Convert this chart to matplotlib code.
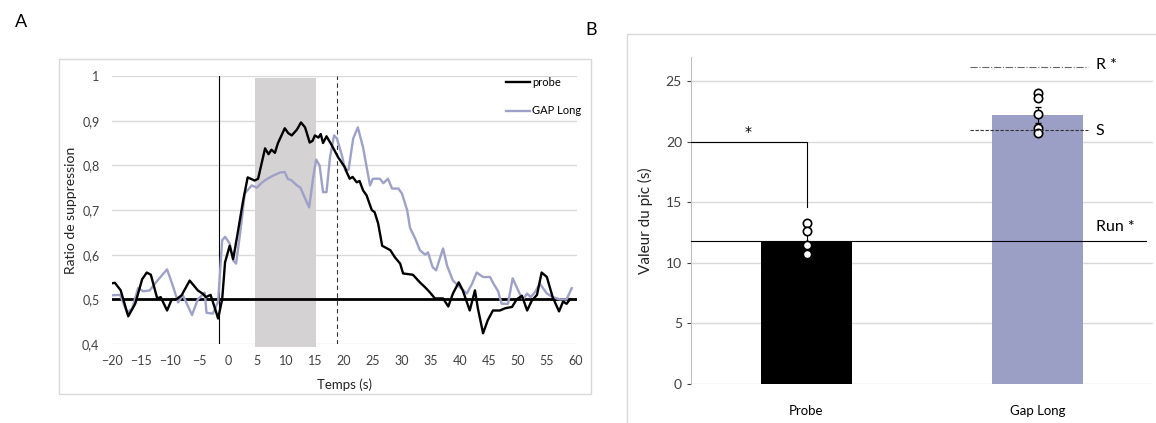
import matplotlib
matplotlib.use("Agg")
import matplotlib.pyplot as plt
from matplotlib.patches import Rectangle

plt.rcParams['font.family'] = ['Lato', 'DejaVu Sans']

# panel A: suppression ratio over time
probe_t = [-20, -19.5, -18.5, -17.2, -16, -14.8, -14, -13.3, -12.2, -11.6, -10.5, -9.7, -8.9, -8.0,
           -6.6, -5.2, -4.3, -3.8, -3.0, -2.2, -1.7, -1.0, -0.5, 0.3, 0.9, 1.7, 2.6, 3.4, 4.6, 5.2,
           6.4, 7.0, 7.5, 8.1, 8.6, 9.8, 10.4, 11.0, 11.9, 12.6, 13.3, 14.1, 14.6, 15.0, 15.6, 16.0,
           16.4, 17.0, 17.9, 19.0, 20.2, 20.5, 21.0, 21.5, 22.2, 22.7, 23.3, 23.9, 24.8, 25.3, 25.9,
           26.6, 28.0, 28.8, 29.7, 30.2, 31.9, 33.1, 34.0, 34.8, 35.7, 37.1, 38.0, 38.8, 39.8, 40.5,
           41.7, 42.6, 43.1, 44.0, 44.8, 45.7, 46.9, 47.8, 49.0, 49.8, 50.7, 51.6, 52.4, 53.3, 54.1,
           55.0, 56.0, 57.1, 57.8, 58.4, 59.0]
probe_v = [0.536, 0.537, 0.52, 0.462, 0.49, 0.545, 0.56, 0.555, 0.502, 0.505, 0.475, 0.50, 0.50, 0.509,
           0.542, 0.52, 0.512, 0.505, 0.51, 0.478, 0.457, 0.50, 0.583, 0.62, 0.59, 0.65, 0.72, 0.773,
           0.766, 0.77, 0.838, 0.825, 0.835, 0.828, 0.849, 0.883, 0.872, 0.867, 0.88, 0.896, 0.885,
           0.851, 0.855, 0.867, 0.862, 0.87, 0.85, 0.865, 0.845, 0.818, 0.795, 0.784, 0.77, 0.774,
           0.762, 0.765, 0.744, 0.733, 0.70, 0.695, 0.67, 0.62, 0.61, 0.594, 0.58, 0.558, 0.555, 0.538,
           0.527, 0.516, 0.502, 0.502, 0.484, 0.513, 0.538, 0.52, 0.475, 0.52, 0.48, 0.424, 0.453,
           0.475, 0.475, 0.48, 0.483, 0.50, 0.508, 0.475, 0.497, 0.51, 0.56, 0.55, 0.505, 0.473, 0.495,
           0.49, 0.50]

gap_t = [-20, -18.6, -17.4, -16.5, -15.5, -14.6, -13.5, -12.1, -10.5, -9.5, -8.6, -7.8, -6.2, -5.2,
         -4.0, -3.7, -2.6, -1.7, -1.0, -0.5, 0.3, 0.9, 1.4, 2.1, 2.9, 4.1, 5.0, 5.9, 6.8, 7.8, 9.0,
         9.8, 10.3, 11.0, 11.9, 12.5, 13.3, 14.0, 14.7, 15.2, 15.8, 16.4, 17.0, 17.6, 18.3, 18.8,
         19.7, 20.2, 20.8, 21.6, 22.4, 23.3, 24.5, 25.0, 26.2, 26.8, 27.6, 28.3, 29.4, 30.0, 30.9,
         31.4, 32.3, 33.1, 34.0, 34.5, 35.3, 35.9, 37.1, 37.8, 38.8, 40.0, 41.2, 42.1, 42.9, 44.0,
         45.2, 45.8, 46.6, 47.2, 48.3, 49.1, 50.3, 50.9, 51.6, 52.2, 52.9, 53.8, 55.0, 56.0, 57.2,
         58.4, 59.3]
gap_v = [0.509, 0.51, 0.47, 0.48, 0.525, 0.518, 0.52, 0.543, 0.567, 0.53, 0.493, 0.51, 0.465, 0.50,
         0.515, 0.47, 0.468, 0.495, 0.632, 0.64, 0.625, 0.587, 0.58, 0.648, 0.737, 0.755, 0.75, 0.762,
         0.77, 0.777, 0.784, 0.785, 0.77, 0.766, 0.755, 0.75, 0.726, 0.706, 0.773, 0.813, 0.80, 0.74,
         0.74, 0.818, 0.867, 0.86, 0.82, 0.789, 0.79, 0.86, 0.885, 0.84, 0.755, 0.77, 0.77, 0.76,
         0.77, 0.748, 0.748, 0.737, 0.70, 0.66, 0.636, 0.61, 0.60, 0.605, 0.572, 0.565, 0.614, 0.575,
         0.542, 0.527, 0.513, 0.535, 0.56, 0.55, 0.55, 0.535, 0.518, 0.49, 0.49, 0.547, 0.513, 0.50,
         0.513, 0.505, 0.515, 0.535, 0.513, 0.505, 0.50, 0.50, 0.525]

onset_t = -1.5
stim_start, stim_end = 4.7, 15.2
dashed_t = 18.8

# panel B: peak time
groups = ['Probe', 'Gap Long']
peak_means = [11.8, 22.2]
peak_err = [0.6, 0.65]
probe_pts = [13.3, 12.6, 11.5, 10.7]
gap_pts = [24.0, 23.6, 22.3, 21.1, 20.7]
run_ref = 11.8
s_ref = 21.0
r_ref = 26.2

blue = '#9ea1c7'
grid_c = '#d9d9d9'

fig = plt.figure(figsize=(11.56, 4.23), dpi=100)

# outer frames like the original figure
fig.patches.append(Rectangle((59 / 1156, 1 - 394 / 423), 532 / 1156, 335 / 423,
                             transform=fig.transFigure, fill=False, ec=grid_c, lw=1))
fig.patches.append(Rectangle((627 / 1156, -0.1), 0.6, 1 - 34 / 423 + 0.1,
                             transform=fig.transFigure, fill=False, ec=grid_c, lw=1))

# ---- A ----
ax = fig.add_axes([112 / 1156, 1 - 344 / 423, 465 / 1156, 268 / 423])
ax.set_xlim(-20, 60.2)
ax.set_ylim(0.4, 1.0)
for s in ax.spines.values():
    s.set_visible(False)
ax.set_yticks([0.4, 0.5, 0.6, 0.7, 0.8, 0.9, 1.0])
ax.set_yticklabels(['0,4', '0,5', '0,6', '0,7', '0,8', '0,9', '1'])
ax.set_xticks(range(-20, 61, 5))
ax.tick_params(length=0, labelsize=9, colors='#404040')
ax.tick_params(axis='y', pad=9)
ax.tick_params(axis='x', pad=8)
ax.grid(axis='y', color=grid_c, lw=1)
ax.set_axisbelow(True)

ax.axvspan(stim_start, stim_end, ymin=-0.012, ymax=0.992, color='#d4d2d3', lw=0, clip_on=False, zorder=1)
ax.axvline(onset_t, color='black', lw=0.8, zorder=2)
ax.axvline(dashed_t, color='#333333', lw=0.8, dashes=(4, 3), zorder=2)
ax.axhline(0.5, color='black', lw=2, zorder=3)

ax.plot(probe_t, probe_v, color='black', lw=1.7, label='probe', zorder=5)
ax.plot(gap_t, gap_v, color=blue, lw=1.7, label='GAP Long', zorder=4)

ax.set_xlabel('Temps (s)', fontsize=9.5, color='#222222', labelpad=8)
ax.set_ylabel('Ratio de suppression', fontsize=10, color='#222222', labelpad=4)
ax.legend(loc='upper left', bbox_to_anchor=(0.825, 1.035), frameon=False, fontsize=8,
          handlelength=2.2, handletextpad=0.2, labelspacing=1.6)

# ---- B ----
bx = fig.add_axes([691 / 1156, 1 - 384 / 423, 462 / 1156, 327 / 423])
bx.set_xlim(-0.5, 1.5)
bx.set_ylim(0, 27)
for s in ['top', 'right', 'bottom']:
    bx.spines[s].set_visible(False)
bx.spines['left'].set_color('#bfbfbf')
bx.set_yticks([0, 5, 10, 15, 20, 25])
bx.tick_params(axis='y', length=3, color='#bfbfbf', labelsize=10, colors='#404040')
bx.tick_params(axis='y', colors='#404040')
bx.tick_params(axis='x', length=0, pad=15, labelsize=9.5)
bx.grid(axis='y', color=grid_c, lw=1)
bx.set_axisbelow(True)

bx.bar([0, 1], peak_means, width=0.395, color=['black', '#9c9fc5'], zorder=2)
bx.errorbar([0, 1], peak_means, yerr=peak_err, fmt='none', ecolor='black', elinewidth=0.8,
            capsize=2.5, zorder=3)
bx.set_xticks([0, 1])
bx.set_xticklabels(groups)
bx.plot([0] * len(probe_pts), probe_pts, 'o', ms=6, mfc='white', mec='black', mew=1.2, zorder=4)
bx.plot([1] * len(gap_pts), gap_pts, 'o', ms=6, mfc='white', mec='black', mew=1.2, zorder=4)

bx.axhline(run_ref, xmin=0, xmax=0.985, color='black', lw=0.8, zorder=5)
bx.plot([0.708, 1.219], [s_ref, s_ref], color='#333333', lw=0.8, dashes=(3, 1.5), zorder=5)
bx.plot([0.708, 1.219], [r_ref, r_ref], color='#666666', lw=0.8, ls='-.', zorder=5)
bx.plot([-0.5, 0, 0], [20, 20, 14.6], color='black', lw=0.8, zorder=5)

bx.text(-0.253, 20.8, '*', ha='center', va='center', fontsize=10, family='DejaVu Sans')
bx.text(1.335, 13.0, 'Run *', ha='center', va='center', fontsize=11.5)
bx.text(1.27, 20.9, 'S', ha='center', va='center', fontsize=11.5)
bx.text(1.30, 26.3, 'R *', ha='center', va='center', fontsize=11.5)
bx.set_ylabel('Valeur du pic (s)', fontsize=11, color='#222222', labelpad=9)

fig.text(15 / 1156, 1 - 22 / 423, 'A', fontsize=13, va='center')
fig.text(585 / 1156, 1 - 30 / 423, 'B', fontsize=13, va='center')

fig.savefig('out.png', dpi=100)
